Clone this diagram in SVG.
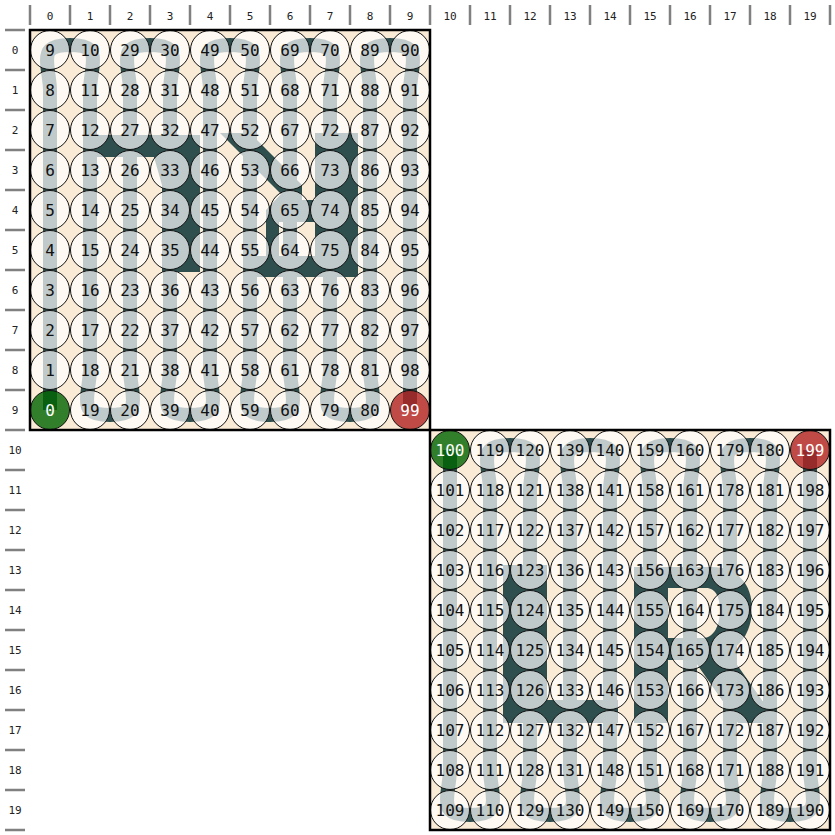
<svg xmlns="http://www.w3.org/2000/svg" width="835" height="835" viewBox="0 0 835 835">
<style>
.tick{stroke:#808080;stroke-width:2.5}
.ax{font-family:"DejaVu Sans Mono","Liberation Mono",monospace;font-size:11px;fill:#222;text-anchor:middle}
.bg{fill:#faebd7}
.shape{fill:#2f4f4f;fill-rule:evenodd}
.snake{fill:none;stroke:#2f4f4f;stroke-width:14}
.nd circle{fill:#fff;fill-opacity:0.7;stroke:#111;stroke-width:1}
.nd text{font-family:"DejaVu Sans Mono","Liberation Mono",monospace;font-size:16px;fill:#111;text-anchor:middle}
.nd.st circle{fill:#006400;fill-opacity:0.8}
.nd.en circle{fill:#b22222;fill-opacity:0.8}
.nd.st text,.nd.en text{fill:#fff}
.frame{fill:none;stroke:#000;stroke-width:2.5}
</style>
<g id="axes">
<path class="tick" d="M30,5V25M70,5V25M110,5V25M150,5V25M190,5V25M230,5V25M270,5V25M310,5V25M350,5V25M390,5V25M430,5V25M470,5V25M510,5V25M550,5V25M590,5V25M630,5V25M670,5V25M710,5V25M750,5V25M790,5V25M830,5V25"/>
<path class="tick" d="M5,30H25M5,70H25M5,110H25M5,150H25M5,190H25M5,230H25M5,270H25M5,310H25M5,350H25M5,390H25M5,430H25M5,470H25M5,510H25M5,550H25M5,590H25M5,630H25M5,670H25M5,710H25M5,750H25M5,790H25M5,830H25"/>
<g class="ax">
<text x="50" y="20">0</text><text x="90" y="20">1</text><text x="130" y="20">2</text><text x="170" y="20">3</text><text x="210" y="20">4</text><text x="250" y="20">5</text><text x="290" y="20">6</text><text x="330" y="20">7</text><text x="370" y="20">8</text><text x="410" y="20">9</text><text x="450" y="20">10</text><text x="490" y="20">11</text><text x="530" y="20">12</text><text x="570" y="20">13</text><text x="610" y="20">14</text><text x="650" y="20">15</text><text x="690" y="20">16</text><text x="730" y="20">17</text><text x="770" y="20">18</text><text x="810" y="20">19</text>
<text x="15" y="54">0</text><text x="15" y="94">1</text><text x="15" y="134">2</text><text x="15" y="174">3</text><text x="15" y="214">4</text><text x="15" y="254">5</text><text x="15" y="294">6</text><text x="15" y="334">7</text><text x="15" y="374">8</text><text x="15" y="414">9</text><text x="15" y="454">10</text><text x="15" y="494">11</text><text x="15" y="534">12</text><text x="15" y="574">13</text><text x="15" y="614">14</text><text x="15" y="654">15</text><text x="15" y="694">16</text><text x="15" y="734">17</text><text x="15" y="774">18</text><text x="15" y="814">19</text>
</g>
</g>
<g id="backgrounds">
<rect class="bg" x="30" y="30" width="400" height="400"/>
<rect class="bg" x="430" y="430" width="400" height="400"/>
</g>
<g id="shapes">
<path class="shape" d="M95,135H200V272H162V185L154,157H95Z"/>
<path class="shape" d="M220,133H250L302,185V200H315V133H358V277H252V256H266V210L281,194Z M279,222H315V256H279Z"/>
<path class="shape" d="M503,565H547V700H618V723H503Z"/>
<path class="shape" d="M634,567H712C738,567 752,585 752,608C752,630 742,645 728,652L778,723H738L694,660H668V723H634Z M668,588H706C716,588 720,598 720,610C720,625 714,638 703,638H668Z"/>
</g>
<g id="connectors">
<path class="snake" d="M50,410 L50,90 C50,76.67 43.33,56.67 50,50 C56.67,43.33 83.33,43.33 90,50 C96.67,56.67 90,76.67 90,90 L90,370 C90,383.33 83.33,403.33 90,410 C96.67,416.67 123.33,416.67 130,410 C136.67,403.33 130,383.33 130,370 L130,90 C130,76.67 123.33,56.67 130,50 C136.67,43.33 163.33,43.33 170,50 C176.67,56.67 170,76.67 170,90 L170,370 C170,383.33 163.33,403.33 170,410 C176.67,416.67 203.33,416.67 210,410 C216.67,403.33 210,383.33 210,370 L210,90 C210,76.67 203.33,56.67 210,50 C216.67,43.33 243.33,43.33 250,50 C256.67,56.67 250,76.67 250,90 L250,370 C250,383.33 243.33,403.33 250,410 C256.67,416.67 283.33,416.67 290,410 C296.67,403.33 290,383.33 290,370 L290,90 C290,76.67 283.33,56.67 290,50 C296.67,43.33 323.33,43.33 330,50 C336.67,56.67 330,76.67 330,90 L330,370 C330,383.33 323.33,403.33 330,410 C336.67,416.67 363.33,416.67 370,410 C376.67,403.33 370,383.33 370,370 L370,90 C370,76.67 363.33,56.67 370,50 C376.67,43.33 403.33,43.33 410,50 C416.67,56.67 410,76.67 410,90 L410,410"/>
<path class="snake" d="M450,450 L450,770 C450,783.33 443.33,803.33 450,810 C456.67,816.67 483.33,816.67 490,810 C496.67,803.33 490,783.33 490,770 L490,490 C490,476.67 483.33,456.67 490,450 C496.67,443.33 523.33,443.33 530,450 C536.67,456.67 530,476.67 530,490 L530,770 C530,783.33 523.33,803.33 530,810 C536.67,816.67 563.33,816.67 570,810 C576.67,803.33 570,783.33 570,770 L570,490 C570,476.67 563.33,456.67 570,450 C576.67,443.33 603.33,443.33 610,450 C616.67,456.67 610,476.67 610,490 L610,770 C610,783.33 603.33,803.33 610,810 C616.67,816.67 643.33,816.67 650,810 C656.67,803.33 650,783.33 650,770 L650,490 C650,476.67 643.33,456.67 650,450 C656.67,443.33 683.33,443.33 690,450 C696.67,456.67 690,476.67 690,490 L690,770 C690,783.33 683.33,803.33 690,810 C696.67,816.67 723.33,816.67 730,810 C736.67,803.33 730,783.33 730,770 L730,490 C730,476.67 723.33,456.67 730,450 C736.67,443.33 763.33,443.33 770,450 C776.67,456.67 770,476.67 770,490 L770,770 C770,783.33 763.33,803.33 770,810 C776.67,816.67 803.33,816.67 810,810 C816.67,803.33 810,783.33 810,770 L810,450"/>
</g>
<g id="nodes">
<g id="n0" class="nd st"><circle cx="50" cy="410" r="19.5"/><text x="50" y="416">0</text></g>
<g id="n1" class="nd"><circle cx="50" cy="370" r="19.5"/><text x="50" y="376">1</text></g>
<g id="n2" class="nd"><circle cx="50" cy="330" r="19.5"/><text x="50" y="336">2</text></g>
<g id="n3" class="nd"><circle cx="50" cy="290" r="19.5"/><text x="50" y="296">3</text></g>
<g id="n4" class="nd"><circle cx="50" cy="250" r="19.5"/><text x="50" y="256">4</text></g>
<g id="n5" class="nd"><circle cx="50" cy="210" r="19.5"/><text x="50" y="216">5</text></g>
<g id="n6" class="nd"><circle cx="50" cy="170" r="19.5"/><text x="50" y="176">6</text></g>
<g id="n7" class="nd"><circle cx="50" cy="130" r="19.5"/><text x="50" y="136">7</text></g>
<g id="n8" class="nd"><circle cx="50" cy="90" r="19.5"/><text x="50" y="96">8</text></g>
<g id="n9" class="nd"><circle cx="50" cy="50" r="19.5"/><text x="50" y="56">9</text></g>
<g id="n10" class="nd"><circle cx="90" cy="50" r="19.5"/><text x="90" y="56">10</text></g>
<g id="n11" class="nd"><circle cx="90" cy="90" r="19.5"/><text x="90" y="96">11</text></g>
<g id="n12" class="nd"><circle cx="90" cy="130" r="19.5"/><text x="90" y="136">12</text></g>
<g id="n13" class="nd"><circle cx="90" cy="170" r="19.5"/><text x="90" y="176">13</text></g>
<g id="n14" class="nd"><circle cx="90" cy="210" r="19.5"/><text x="90" y="216">14</text></g>
<g id="n15" class="nd"><circle cx="90" cy="250" r="19.5"/><text x="90" y="256">15</text></g>
<g id="n16" class="nd"><circle cx="90" cy="290" r="19.5"/><text x="90" y="296">16</text></g>
<g id="n17" class="nd"><circle cx="90" cy="330" r="19.5"/><text x="90" y="336">17</text></g>
<g id="n18" class="nd"><circle cx="90" cy="370" r="19.5"/><text x="90" y="376">18</text></g>
<g id="n19" class="nd"><circle cx="90" cy="410" r="19.5"/><text x="90" y="416">19</text></g>
<g id="n20" class="nd"><circle cx="130" cy="410" r="19.5"/><text x="130" y="416">20</text></g>
<g id="n21" class="nd"><circle cx="130" cy="370" r="19.5"/><text x="130" y="376">21</text></g>
<g id="n22" class="nd"><circle cx="130" cy="330" r="19.5"/><text x="130" y="336">22</text></g>
<g id="n23" class="nd"><circle cx="130" cy="290" r="19.5"/><text x="130" y="296">23</text></g>
<g id="n24" class="nd"><circle cx="130" cy="250" r="19.5"/><text x="130" y="256">24</text></g>
<g id="n25" class="nd"><circle cx="130" cy="210" r="19.5"/><text x="130" y="216">25</text></g>
<g id="n26" class="nd"><circle cx="130" cy="170" r="19.5"/><text x="130" y="176">26</text></g>
<g id="n27" class="nd"><circle cx="130" cy="130" r="19.5"/><text x="130" y="136">27</text></g>
<g id="n28" class="nd"><circle cx="130" cy="90" r="19.5"/><text x="130" y="96">28</text></g>
<g id="n29" class="nd"><circle cx="130" cy="50" r="19.5"/><text x="130" y="56">29</text></g>
<g id="n30" class="nd"><circle cx="170" cy="50" r="19.5"/><text x="170" y="56">30</text></g>
<g id="n31" class="nd"><circle cx="170" cy="90" r="19.5"/><text x="170" y="96">31</text></g>
<g id="n32" class="nd"><circle cx="170" cy="130" r="19.5"/><text x="170" y="136">32</text></g>
<g id="n33" class="nd"><circle cx="170" cy="170" r="19.5"/><text x="170" y="176">33</text></g>
<g id="n34" class="nd"><circle cx="170" cy="210" r="19.5"/><text x="170" y="216">34</text></g>
<g id="n35" class="nd"><circle cx="170" cy="250" r="19.5"/><text x="170" y="256">35</text></g>
<g id="n36" class="nd"><circle cx="170" cy="290" r="19.5"/><text x="170" y="296">36</text></g>
<g id="n37" class="nd"><circle cx="170" cy="330" r="19.5"/><text x="170" y="336">37</text></g>
<g id="n38" class="nd"><circle cx="170" cy="370" r="19.5"/><text x="170" y="376">38</text></g>
<g id="n39" class="nd"><circle cx="170" cy="410" r="19.5"/><text x="170" y="416">39</text></g>
<g id="n40" class="nd"><circle cx="210" cy="410" r="19.5"/><text x="210" y="416">40</text></g>
<g id="n41" class="nd"><circle cx="210" cy="370" r="19.5"/><text x="210" y="376">41</text></g>
<g id="n42" class="nd"><circle cx="210" cy="330" r="19.5"/><text x="210" y="336">42</text></g>
<g id="n43" class="nd"><circle cx="210" cy="290" r="19.5"/><text x="210" y="296">43</text></g>
<g id="n44" class="nd"><circle cx="210" cy="250" r="19.5"/><text x="210" y="256">44</text></g>
<g id="n45" class="nd"><circle cx="210" cy="210" r="19.5"/><text x="210" y="216">45</text></g>
<g id="n46" class="nd"><circle cx="210" cy="170" r="19.5"/><text x="210" y="176">46</text></g>
<g id="n47" class="nd"><circle cx="210" cy="130" r="19.5"/><text x="210" y="136">47</text></g>
<g id="n48" class="nd"><circle cx="210" cy="90" r="19.5"/><text x="210" y="96">48</text></g>
<g id="n49" class="nd"><circle cx="210" cy="50" r="19.5"/><text x="210" y="56">49</text></g>
<g id="n50" class="nd"><circle cx="250" cy="50" r="19.5"/><text x="250" y="56">50</text></g>
<g id="n51" class="nd"><circle cx="250" cy="90" r="19.5"/><text x="250" y="96">51</text></g>
<g id="n52" class="nd"><circle cx="250" cy="130" r="19.5"/><text x="250" y="136">52</text></g>
<g id="n53" class="nd"><circle cx="250" cy="170" r="19.5"/><text x="250" y="176">53</text></g>
<g id="n54" class="nd"><circle cx="250" cy="210" r="19.5"/><text x="250" y="216">54</text></g>
<g id="n55" class="nd"><circle cx="250" cy="250" r="19.5"/><text x="250" y="256">55</text></g>
<g id="n56" class="nd"><circle cx="250" cy="290" r="19.5"/><text x="250" y="296">56</text></g>
<g id="n57" class="nd"><circle cx="250" cy="330" r="19.5"/><text x="250" y="336">57</text></g>
<g id="n58" class="nd"><circle cx="250" cy="370" r="19.5"/><text x="250" y="376">58</text></g>
<g id="n59" class="nd"><circle cx="250" cy="410" r="19.5"/><text x="250" y="416">59</text></g>
<g id="n60" class="nd"><circle cx="290" cy="410" r="19.5"/><text x="290" y="416">60</text></g>
<g id="n61" class="nd"><circle cx="290" cy="370" r="19.5"/><text x="290" y="376">61</text></g>
<g id="n62" class="nd"><circle cx="290" cy="330" r="19.5"/><text x="290" y="336">62</text></g>
<g id="n63" class="nd"><circle cx="290" cy="290" r="19.5"/><text x="290" y="296">63</text></g>
<g id="n64" class="nd"><circle cx="290" cy="250" r="19.5"/><text x="290" y="256">64</text></g>
<g id="n65" class="nd"><circle cx="290" cy="210" r="19.5"/><text x="290" y="216">65</text></g>
<g id="n66" class="nd"><circle cx="290" cy="170" r="19.5"/><text x="290" y="176">66</text></g>
<g id="n67" class="nd"><circle cx="290" cy="130" r="19.5"/><text x="290" y="136">67</text></g>
<g id="n68" class="nd"><circle cx="290" cy="90" r="19.5"/><text x="290" y="96">68</text></g>
<g id="n69" class="nd"><circle cx="290" cy="50" r="19.5"/><text x="290" y="56">69</text></g>
<g id="n70" class="nd"><circle cx="330" cy="50" r="19.5"/><text x="330" y="56">70</text></g>
<g id="n71" class="nd"><circle cx="330" cy="90" r="19.5"/><text x="330" y="96">71</text></g>
<g id="n72" class="nd"><circle cx="330" cy="130" r="19.5"/><text x="330" y="136">72</text></g>
<g id="n73" class="nd"><circle cx="330" cy="170" r="19.5"/><text x="330" y="176">73</text></g>
<g id="n74" class="nd"><circle cx="330" cy="210" r="19.5"/><text x="330" y="216">74</text></g>
<g id="n75" class="nd"><circle cx="330" cy="250" r="19.5"/><text x="330" y="256">75</text></g>
<g id="n76" class="nd"><circle cx="330" cy="290" r="19.5"/><text x="330" y="296">76</text></g>
<g id="n77" class="nd"><circle cx="330" cy="330" r="19.5"/><text x="330" y="336">77</text></g>
<g id="n78" class="nd"><circle cx="330" cy="370" r="19.5"/><text x="330" y="376">78</text></g>
<g id="n79" class="nd"><circle cx="330" cy="410" r="19.5"/><text x="330" y="416">79</text></g>
<g id="n80" class="nd"><circle cx="370" cy="410" r="19.5"/><text x="370" y="416">80</text></g>
<g id="n81" class="nd"><circle cx="370" cy="370" r="19.5"/><text x="370" y="376">81</text></g>
<g id="n82" class="nd"><circle cx="370" cy="330" r="19.5"/><text x="370" y="336">82</text></g>
<g id="n83" class="nd"><circle cx="370" cy="290" r="19.5"/><text x="370" y="296">83</text></g>
<g id="n84" class="nd"><circle cx="370" cy="250" r="19.5"/><text x="370" y="256">84</text></g>
<g id="n85" class="nd"><circle cx="370" cy="210" r="19.5"/><text x="370" y="216">85</text></g>
<g id="n86" class="nd"><circle cx="370" cy="170" r="19.5"/><text x="370" y="176">86</text></g>
<g id="n87" class="nd"><circle cx="370" cy="130" r="19.5"/><text x="370" y="136">87</text></g>
<g id="n88" class="nd"><circle cx="370" cy="90" r="19.5"/><text x="370" y="96">88</text></g>
<g id="n89" class="nd"><circle cx="370" cy="50" r="19.5"/><text x="370" y="56">89</text></g>
<g id="n90" class="nd"><circle cx="410" cy="50" r="19.5"/><text x="410" y="56">90</text></g>
<g id="n91" class="nd"><circle cx="410" cy="90" r="19.5"/><text x="410" y="96">91</text></g>
<g id="n92" class="nd"><circle cx="410" cy="130" r="19.5"/><text x="410" y="136">92</text></g>
<g id="n93" class="nd"><circle cx="410" cy="170" r="19.5"/><text x="410" y="176">93</text></g>
<g id="n94" class="nd"><circle cx="410" cy="210" r="19.5"/><text x="410" y="216">94</text></g>
<g id="n95" class="nd"><circle cx="410" cy="250" r="19.5"/><text x="410" y="256">95</text></g>
<g id="n96" class="nd"><circle cx="410" cy="290" r="19.5"/><text x="410" y="296">96</text></g>
<g id="n97" class="nd"><circle cx="410" cy="330" r="19.5"/><text x="410" y="336">97</text></g>
<g id="n98" class="nd"><circle cx="410" cy="370" r="19.5"/><text x="410" y="376">98</text></g>
<g id="n99" class="nd en"><circle cx="410" cy="410" r="19.5"/><text x="410" y="416">99</text></g>
<g id="n100" class="nd st"><circle cx="450" cy="450" r="19.5"/><text x="450" y="456">100</text></g>
<g id="n101" class="nd"><circle cx="450" cy="490" r="19.5"/><text x="450" y="496">101</text></g>
<g id="n102" class="nd"><circle cx="450" cy="530" r="19.5"/><text x="450" y="536">102</text></g>
<g id="n103" class="nd"><circle cx="450" cy="570" r="19.5"/><text x="450" y="576">103</text></g>
<g id="n104" class="nd"><circle cx="450" cy="610" r="19.5"/><text x="450" y="616">104</text></g>
<g id="n105" class="nd"><circle cx="450" cy="650" r="19.5"/><text x="450" y="656">105</text></g>
<g id="n106" class="nd"><circle cx="450" cy="690" r="19.5"/><text x="450" y="696">106</text></g>
<g id="n107" class="nd"><circle cx="450" cy="730" r="19.5"/><text x="450" y="736">107</text></g>
<g id="n108" class="nd"><circle cx="450" cy="770" r="19.5"/><text x="450" y="776">108</text></g>
<g id="n109" class="nd"><circle cx="450" cy="810" r="19.5"/><text x="450" y="816">109</text></g>
<g id="n110" class="nd"><circle cx="490" cy="810" r="19.5"/><text x="490" y="816">110</text></g>
<g id="n111" class="nd"><circle cx="490" cy="770" r="19.5"/><text x="490" y="776">111</text></g>
<g id="n112" class="nd"><circle cx="490" cy="730" r="19.5"/><text x="490" y="736">112</text></g>
<g id="n113" class="nd"><circle cx="490" cy="690" r="19.5"/><text x="490" y="696">113</text></g>
<g id="n114" class="nd"><circle cx="490" cy="650" r="19.5"/><text x="490" y="656">114</text></g>
<g id="n115" class="nd"><circle cx="490" cy="610" r="19.5"/><text x="490" y="616">115</text></g>
<g id="n116" class="nd"><circle cx="490" cy="570" r="19.5"/><text x="490" y="576">116</text></g>
<g id="n117" class="nd"><circle cx="490" cy="530" r="19.5"/><text x="490" y="536">117</text></g>
<g id="n118" class="nd"><circle cx="490" cy="490" r="19.5"/><text x="490" y="496">118</text></g>
<g id="n119" class="nd"><circle cx="490" cy="450" r="19.5"/><text x="490" y="456">119</text></g>
<g id="n120" class="nd"><circle cx="530" cy="450" r="19.5"/><text x="530" y="456">120</text></g>
<g id="n121" class="nd"><circle cx="530" cy="490" r="19.5"/><text x="530" y="496">121</text></g>
<g id="n122" class="nd"><circle cx="530" cy="530" r="19.5"/><text x="530" y="536">122</text></g>
<g id="n123" class="nd"><circle cx="530" cy="570" r="19.5"/><text x="530" y="576">123</text></g>
<g id="n124" class="nd"><circle cx="530" cy="610" r="19.5"/><text x="530" y="616">124</text></g>
<g id="n125" class="nd"><circle cx="530" cy="650" r="19.5"/><text x="530" y="656">125</text></g>
<g id="n126" class="nd"><circle cx="530" cy="690" r="19.5"/><text x="530" y="696">126</text></g>
<g id="n127" class="nd"><circle cx="530" cy="730" r="19.5"/><text x="530" y="736">127</text></g>
<g id="n128" class="nd"><circle cx="530" cy="770" r="19.5"/><text x="530" y="776">128</text></g>
<g id="n129" class="nd"><circle cx="530" cy="810" r="19.5"/><text x="530" y="816">129</text></g>
<g id="n130" class="nd"><circle cx="570" cy="810" r="19.5"/><text x="570" y="816">130</text></g>
<g id="n131" class="nd"><circle cx="570" cy="770" r="19.5"/><text x="570" y="776">131</text></g>
<g id="n132" class="nd"><circle cx="570" cy="730" r="19.5"/><text x="570" y="736">132</text></g>
<g id="n133" class="nd"><circle cx="570" cy="690" r="19.5"/><text x="570" y="696">133</text></g>
<g id="n134" class="nd"><circle cx="570" cy="650" r="19.5"/><text x="570" y="656">134</text></g>
<g id="n135" class="nd"><circle cx="570" cy="610" r="19.5"/><text x="570" y="616">135</text></g>
<g id="n136" class="nd"><circle cx="570" cy="570" r="19.5"/><text x="570" y="576">136</text></g>
<g id="n137" class="nd"><circle cx="570" cy="530" r="19.5"/><text x="570" y="536">137</text></g>
<g id="n138" class="nd"><circle cx="570" cy="490" r="19.5"/><text x="570" y="496">138</text></g>
<g id="n139" class="nd"><circle cx="570" cy="450" r="19.5"/><text x="570" y="456">139</text></g>
<g id="n140" class="nd"><circle cx="610" cy="450" r="19.5"/><text x="610" y="456">140</text></g>
<g id="n141" class="nd"><circle cx="610" cy="490" r="19.5"/><text x="610" y="496">141</text></g>
<g id="n142" class="nd"><circle cx="610" cy="530" r="19.5"/><text x="610" y="536">142</text></g>
<g id="n143" class="nd"><circle cx="610" cy="570" r="19.5"/><text x="610" y="576">143</text></g>
<g id="n144" class="nd"><circle cx="610" cy="610" r="19.5"/><text x="610" y="616">144</text></g>
<g id="n145" class="nd"><circle cx="610" cy="650" r="19.5"/><text x="610" y="656">145</text></g>
<g id="n146" class="nd"><circle cx="610" cy="690" r="19.5"/><text x="610" y="696">146</text></g>
<g id="n147" class="nd"><circle cx="610" cy="730" r="19.5"/><text x="610" y="736">147</text></g>
<g id="n148" class="nd"><circle cx="610" cy="770" r="19.5"/><text x="610" y="776">148</text></g>
<g id="n149" class="nd"><circle cx="610" cy="810" r="19.5"/><text x="610" y="816">149</text></g>
<g id="n150" class="nd"><circle cx="650" cy="810" r="19.5"/><text x="650" y="816">150</text></g>
<g id="n151" class="nd"><circle cx="650" cy="770" r="19.5"/><text x="650" y="776">151</text></g>
<g id="n152" class="nd"><circle cx="650" cy="730" r="19.5"/><text x="650" y="736">152</text></g>
<g id="n153" class="nd"><circle cx="650" cy="690" r="19.5"/><text x="650" y="696">153</text></g>
<g id="n154" class="nd"><circle cx="650" cy="650" r="19.5"/><text x="650" y="656">154</text></g>
<g id="n155" class="nd"><circle cx="650" cy="610" r="19.5"/><text x="650" y="616">155</text></g>
<g id="n156" class="nd"><circle cx="650" cy="570" r="19.5"/><text x="650" y="576">156</text></g>
<g id="n157" class="nd"><circle cx="650" cy="530" r="19.5"/><text x="650" y="536">157</text></g>
<g id="n158" class="nd"><circle cx="650" cy="490" r="19.5"/><text x="650" y="496">158</text></g>
<g id="n159" class="nd"><circle cx="650" cy="450" r="19.5"/><text x="650" y="456">159</text></g>
<g id="n160" class="nd"><circle cx="690" cy="450" r="19.5"/><text x="690" y="456">160</text></g>
<g id="n161" class="nd"><circle cx="690" cy="490" r="19.5"/><text x="690" y="496">161</text></g>
<g id="n162" class="nd"><circle cx="690" cy="530" r="19.5"/><text x="690" y="536">162</text></g>
<g id="n163" class="nd"><circle cx="690" cy="570" r="19.5"/><text x="690" y="576">163</text></g>
<g id="n164" class="nd"><circle cx="690" cy="610" r="19.5"/><text x="690" y="616">164</text></g>
<g id="n165" class="nd"><circle cx="690" cy="650" r="19.5"/><text x="690" y="656">165</text></g>
<g id="n166" class="nd"><circle cx="690" cy="690" r="19.5"/><text x="690" y="696">166</text></g>
<g id="n167" class="nd"><circle cx="690" cy="730" r="19.5"/><text x="690" y="736">167</text></g>
<g id="n168" class="nd"><circle cx="690" cy="770" r="19.5"/><text x="690" y="776">168</text></g>
<g id="n169" class="nd"><circle cx="690" cy="810" r="19.5"/><text x="690" y="816">169</text></g>
<g id="n170" class="nd"><circle cx="730" cy="810" r="19.5"/><text x="730" y="816">170</text></g>
<g id="n171" class="nd"><circle cx="730" cy="770" r="19.5"/><text x="730" y="776">171</text></g>
<g id="n172" class="nd"><circle cx="730" cy="730" r="19.5"/><text x="730" y="736">172</text></g>
<g id="n173" class="nd"><circle cx="730" cy="690" r="19.5"/><text x="730" y="696">173</text></g>
<g id="n174" class="nd"><circle cx="730" cy="650" r="19.5"/><text x="730" y="656">174</text></g>
<g id="n175" class="nd"><circle cx="730" cy="610" r="19.5"/><text x="730" y="616">175</text></g>
<g id="n176" class="nd"><circle cx="730" cy="570" r="19.5"/><text x="730" y="576">176</text></g>
<g id="n177" class="nd"><circle cx="730" cy="530" r="19.5"/><text x="730" y="536">177</text></g>
<g id="n178" class="nd"><circle cx="730" cy="490" r="19.5"/><text x="730" y="496">178</text></g>
<g id="n179" class="nd"><circle cx="730" cy="450" r="19.5"/><text x="730" y="456">179</text></g>
<g id="n180" class="nd"><circle cx="770" cy="450" r="19.5"/><text x="770" y="456">180</text></g>
<g id="n181" class="nd"><circle cx="770" cy="490" r="19.5"/><text x="770" y="496">181</text></g>
<g id="n182" class="nd"><circle cx="770" cy="530" r="19.5"/><text x="770" y="536">182</text></g>
<g id="n183" class="nd"><circle cx="770" cy="570" r="19.5"/><text x="770" y="576">183</text></g>
<g id="n184" class="nd"><circle cx="770" cy="610" r="19.5"/><text x="770" y="616">184</text></g>
<g id="n185" class="nd"><circle cx="770" cy="650" r="19.5"/><text x="770" y="656">185</text></g>
<g id="n186" class="nd"><circle cx="770" cy="690" r="19.5"/><text x="770" y="696">186</text></g>
<g id="n187" class="nd"><circle cx="770" cy="730" r="19.5"/><text x="770" y="736">187</text></g>
<g id="n188" class="nd"><circle cx="770" cy="770" r="19.5"/><text x="770" y="776">188</text></g>
<g id="n189" class="nd"><circle cx="770" cy="810" r="19.5"/><text x="770" y="816">189</text></g>
<g id="n190" class="nd"><circle cx="810" cy="810" r="19.5"/><text x="810" y="816">190</text></g>
<g id="n191" class="nd"><circle cx="810" cy="770" r="19.5"/><text x="810" y="776">191</text></g>
<g id="n192" class="nd"><circle cx="810" cy="730" r="19.5"/><text x="810" y="736">192</text></g>
<g id="n193" class="nd"><circle cx="810" cy="690" r="19.5"/><text x="810" y="696">193</text></g>
<g id="n194" class="nd"><circle cx="810" cy="650" r="19.5"/><text x="810" y="656">194</text></g>
<g id="n195" class="nd"><circle cx="810" cy="610" r="19.5"/><text x="810" y="616">195</text></g>
<g id="n196" class="nd"><circle cx="810" cy="570" r="19.5"/><text x="810" y="576">196</text></g>
<g id="n197" class="nd"><circle cx="810" cy="530" r="19.5"/><text x="810" y="536">197</text></g>
<g id="n198" class="nd"><circle cx="810" cy="490" r="19.5"/><text x="810" y="496">198</text></g>
<g id="n199" class="nd en"><circle cx="810" cy="450" r="19.5"/><text x="810" y="456">199</text></g>
</g>
<g id="frames">
<rect class="frame" x="30" y="30" width="400" height="400"/>
<rect class="frame" x="430" y="430" width="400" height="400"/>
</g>
</svg>
